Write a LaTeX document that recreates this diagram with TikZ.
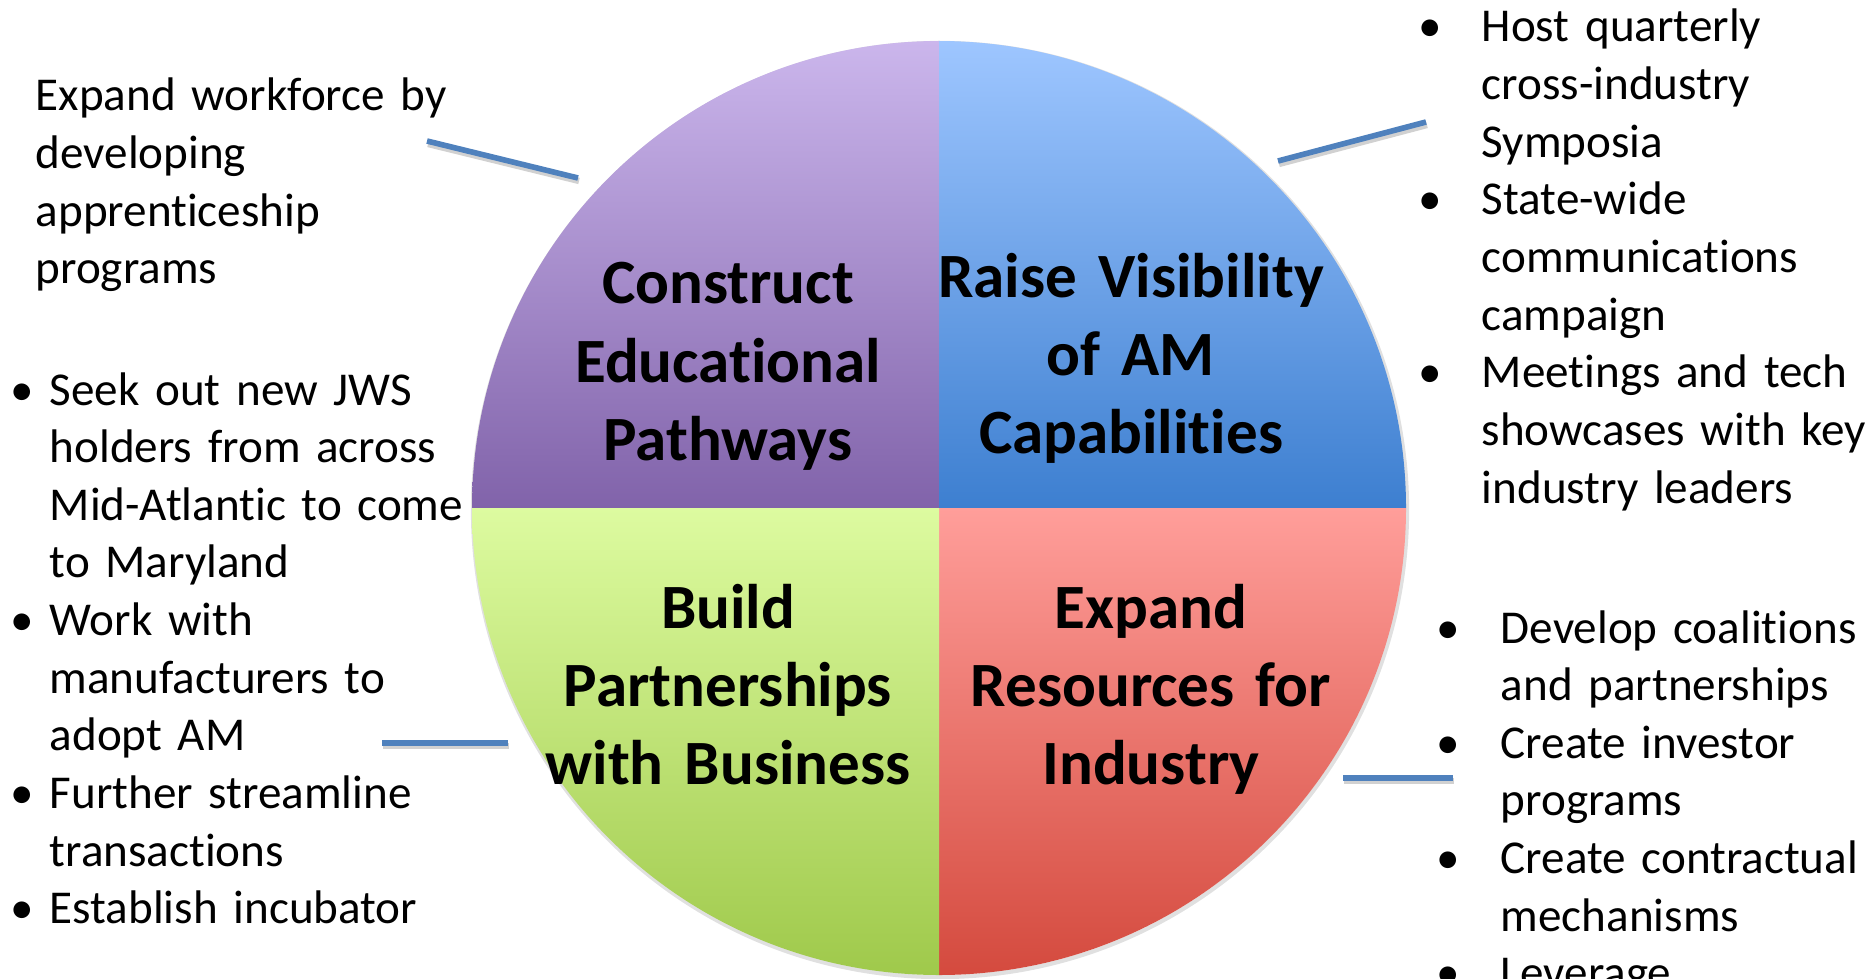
\documentclass[tikz,border=0pt]{standalone}
\usepackage{fontspec}
\setmainfont{Carlito}[Ligatures={NoCommon,NoRare,NoContextual}]
\definecolor{linkblue}{RGB}{79,129,189}
\definecolor{purT}{RGB}{203,182,236}
\definecolor{purB}{RGB}{129,99,170}
\definecolor{bluT}{RGB}{158,198,255}
\definecolor{bluB}{RGB}{61,127,208}
\definecolor{grnT}{RGB}{221,251,160}
\definecolor{grnB}{RGB}{159,201,75}
\definecolor{redT}{RGB}{255,158,154}
\definecolor{redB}{RGB}{212,74,62}
\newcommand\bitem[2]{\makebox[#1][l]{\textbullet}#2}
\newcommand\cont[2]{\hspace*{#1}#2}
\newcommand\nti{t\kern0pt i}
\tikzset{
  body/.style={font=\fontsize{13.4pt}{16.39pt}\selectfont, inner sep=0pt, align=left, text width=5cm, anchor=base west},
  qtitle/.style={font=\bfseries\fontsize{17.93pt}{22.28pt}\selectfont, inner sep=0pt, align=center, text width=5cm, anchor=base},
  conn/.style={draw=linkblue, line width=1.6pt},
  connshadow/.style={draw=black!18, line width=1.8pt}
}
\begin{document}
\begin{tikzpicture}[x=0.01cm,y=-0.01cm]
\useasboundingbox (0,0) rectangle (1870,979);
\clip (0,0) rectangle (1870,979);
% soft shadow of the disc
\draw[black!12, line width=1.2pt] (940,510) circle (467);
% quadrants
\path[top color=purT, bottom color=purB] (939,508) -- (472,508) arc[start angle=180, end angle=270, radius=467] -- cycle;
\path[top color=bluT, bottom color=bluB] (939,508) -- (939,41) arc[start angle=270, end angle=360, radius=467] -- cycle;
\path[top color=redT, bottom color=redB] (939,508) -- (1406,508) arc[start angle=0, end angle=90, radius=467] -- cycle;
\path[top color=grnT, bottom color=grnB] (939,508) -- (939,975) arc[start angle=90, end angle=180, radius=467] -- cycle;
% titles
\node[qtitle] (q1) at (728,304) {Construct\\Educa\nti onal\\Pathways};
\node[qtitle] (q2) at (1131,297) {Raise Visibility\\of AM\\Capabili\nti es};
\node[qtitle] (q3) at (728,628) {Build\\Partnerships\\with Business};
\node[qtitle] (q4) at (1151,628) {Expand\\Resources for\\Industry};
% side texts
\node[body] (tl) at (35,111) {Expand workforce by\\developing\\appren\nti ceship\\programs};
\node[body] (lb) at (10,405) {\bitem{0.39cm}{Seek out new JWS}\\
\cont{0.39cm}{holders from across}\\
\cont{0.39cm}{Mid-Atlan\nti c to come}\\
\cont{0.39cm}{to Maryland}\\
\bitem{0.39cm}{Work with}\\
\cont{0.39cm}{manufacturers to}\\
\cont{0.39cm}{adopt AM}\\
\bitem{0.39cm}{Further streamline}\\
\cont{0.39cm}{transac\nti ons}\\
\bitem{0.39cm}{Establish incubator}};
\node[body] (rt) at (1418,42) {\bitem{0.63cm}{Host quarterly}\\
\cont{0.63cm}{cross-industry}\\
\cont{0.63cm}{Symposia}\\
\bitem{0.63cm}{State-wide}\\
\cont{0.63cm}{communica\nti ons}\\
\cont{0.63cm}{campaign}\\
\bitem{0.63cm}{Meetings and tech}\\
\cont{0.63cm}{showcases with key}\\
\cont{0.63cm}{industry leaders}};
\node[body] (rb) at (1436,643) {\bitem{0.64cm}{Develop coali\nti ons}\\
\cont{0.64cm}{and partnerships}\\
\bitem{0.64cm}{Create investor}\\
\cont{0.64cm}{programs}\\
\bitem{0.64cm}{Create contractual}\\
\cont{0.64cm}{mechanisms}\\
\bitem{0.64cm}{Leverage}};
% connectors
\coordinate (c1a) at (427,141); \coordinate (c1b) at (578,178);
\coordinate (c2a) at (1278,161); \coordinate (c2b) at (1426,122);
\coordinate (c3a) at (382,743); \coordinate (c3b) at (508,743);
\coordinate (c4a) at (1343,778); \coordinate (c4b) at (1453,778);
\foreach \a/\b in {c1a/c1b,c2a/c2b,c3a/c3b,c4a/c4b}{
  \draw[connshadow] ([shift={(1,3)}]\a) -- ([shift={(1,3)}]\b);
  \draw[conn] (\a) -- (\b);
}
\end{tikzpicture}
\end{document}
